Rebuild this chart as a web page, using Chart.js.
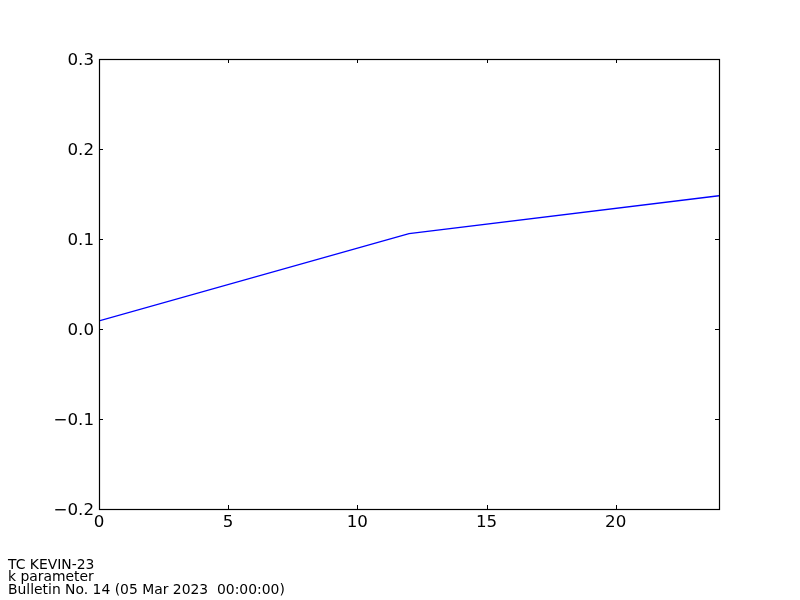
<!DOCTYPE html>
<html>
<head>
<meta charset="utf-8">
<script src="https://cdn.jsdelivr.net/npm/chart.js@4"></script>
<style>
    html, body { margin: 0; padding: 0; background: #fff; }
    #wrap { position: relative; width: 800px; height: 600px; }
    #footer {
        position: absolute; left: 8px; top: 558px;
        font-family: "DejaVu Sans", sans-serif; font-size: 13.9px; line-height: 12.4px; color: #000;
    }
</style>
</head>
<body>
<div id="wrap">
    <canvas id="kChart" width="800" height="600"></canvas>
    <div id="footer">
        <div>TC KEVIN-23</div>
        <div>k parameter</div>
        <div>Bulletin No. 14 (05 Mar 2023&nbsp; 00:00:00)</div>
    </div>
</div>
<script>
const leadHours = [0, 12, 24];
const kValues = [0.009, 0.106, 0.148];
const xTicks = [0, 5, 10, 15, 20];
const yTicks = [-0.2, -0.1, 0.0, 0.1, 0.2, 0.3];

// matplotlib-style ticks pointing into the plot, on all four sides
const innerTicks = {
    id: 'innerTicks',
    afterDatasetsDraw(chart) {
        const ctx = chart.ctx;
        const area = chart.chartArea;
        const x = chart.scales.x, y = chart.scales.y;
        const len = 4;
        ctx.save();
        ctx.strokeStyle = '#000';
        ctx.lineWidth = 1;
        x.ticks.forEach(function (t) {
            const px = Math.round(x.getPixelForValue(t.value)) + 0.5;
            ctx.beginPath();
            ctx.moveTo(px, area.bottom); ctx.lineTo(px, area.bottom - len);
            ctx.moveTo(px, area.top); ctx.lineTo(px, area.top + len);
            ctx.stroke();
        });
        y.ticks.forEach(function (t) {
            const py = Math.round(y.getPixelForValue(t.value)) + 0.5;
            ctx.beginPath();
            ctx.moveTo(area.left, py); ctx.lineTo(area.left + len, py);
            ctx.moveTo(area.right, py); ctx.lineTo(area.right - len, py);
            ctx.stroke();
        });
        ctx.lineWidth = 1.2;
        ctx.strokeRect(area.left + 0.5, area.top + 0.5, area.right - area.left, area.bottom - area.top);
        ctx.restore();
    }
};

const ctx = document.getElementById('kChart').getContext('2d');
const kChart = new Chart(ctx, {
    type: 'line',
    data: {
        datasets: [{
            data: leadHours.map(function (h, i) { return { x: h, y: kValues[i] }; }),
            borderColor: '#0000ff',
            borderWidth: 1.4,
            pointRadius: 0,
            fill: false,
            tension: 0
        }]
    },
    options: {
        responsive: false,
        animation: false,
        layout: { padding: { left: 0, top: 59, right: 81, bottom: 0 } },
        plugins: { legend: { display: false }, tooltip: { enabled: false } },
        scales: {
            x: {
                type: 'linear',
                min: 0, max: 24,
                afterBuildTicks: function (scale) {
                    scale.ticks = xTicks.map(function (v) { return { value: v }; });
                },
                afterFit: function (scale) { scale.height = 91; },
                grid: { display: false, drawTicks: false },
                border: { display: false },
                ticks: {
                    color: '#000',
                    padding: 4,
                    maxRotation: 0,
                    font: { family: 'DejaVu Sans', size: 16.7 }
                }
            },
            y: {
                type: 'linear',
                min: -0.2, max: 0.3,
                afterBuildTicks: function (scale) {
                    scale.ticks = yTicks.map(function (v) { return { value: v }; });
                },
                afterFit: function (scale) { scale.width = 99; },
                grid: { display: false, drawTicks: false },
                border: { display: false },
                ticks: {
                    color: '#000',
                    padding: 5,
                    labelOffset: 2,
                    font: { family: 'DejaVu Sans', size: 16.7 },
                    callback: function (v) {
                        return v.toFixed(1).replace('-', '\u2212');
                    }
                }
            }
        }
    },
    plugins: [innerTicks]
});
</script>
</body>
</html>
